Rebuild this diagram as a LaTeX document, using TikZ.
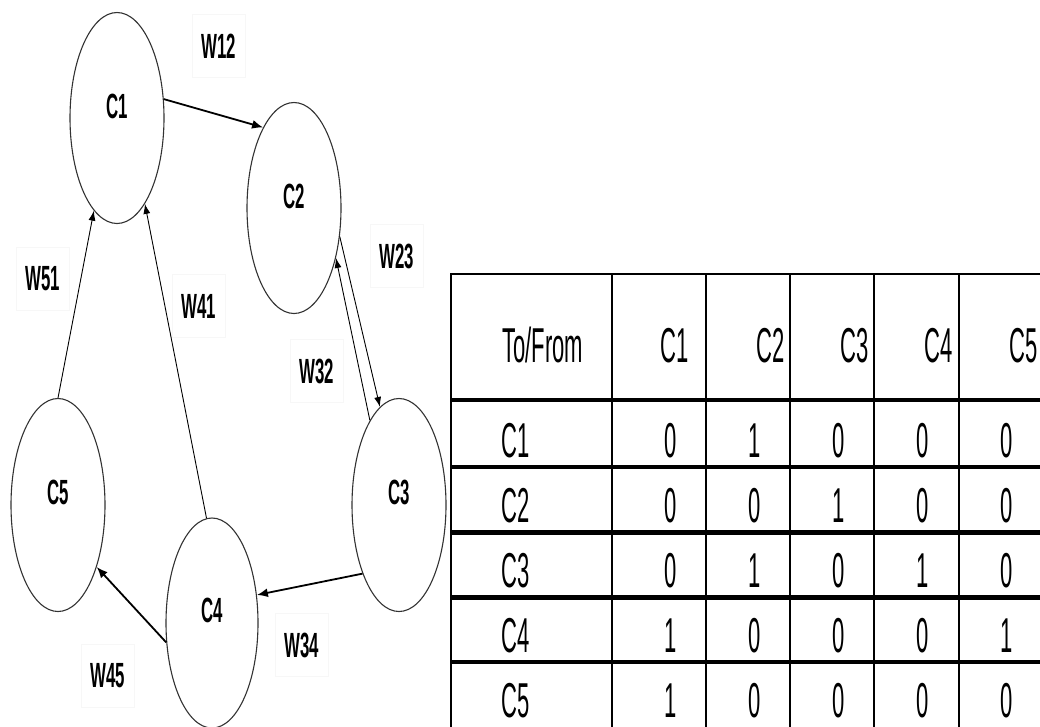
\documentclass[tikz,border=0pt]{standalone}
\usepackage{fontspec}
\setmainfont{Liberation Sans}
\newfontfamily\tabfont[FakeStretch=0.45]{Liberation Sans}
\newfontfamily\lblfont[FakeStretch=0.48]{Liberation Sans}
\usetikzlibrary{shapes.geometric,arrows.meta}

\tikzset{
  cell/.style={ellipse, draw=black!80, line width=1.1pt, inner sep=0pt,
               minimum width=94pt, minimum height=211pt},
  ctext/.style={font=\lblfont\bfseries\fontsize{35}{40}\selectfont, inner sep=0pt},
  wlabel/.style={font=\lblfont\bfseries\fontsize{35}{40}\selectfont, draw=black!3,
                 line width=0.6pt, minimum width=53pt, minimum height=63pt},
  link/.style={-{Latex[length=10pt,width=7pt]}, line width=0.9pt, black},
  heavy/.style={-{Latex[length=11pt,width=9pt]}, line width=1.8pt, black},
  tabtext/.style={font=\tabfont\fontsize{49}{53}\selectfont, inner sep=0pt},
  grid/.style={line width=2pt, black},
}

\begin{document}
\begin{tikzpicture}[x=1pt,y=-1pt]
\useasboundingbox[fill=white] (0,0) rectangle (1040,726);

% concept nodes
\node[cell] (c1) at (117,118) {};
\node[cell] (c2) at (294,208) {};
\node[cell, minimum height=213pt] (c3) at (399,505) {};
\node[cell, minimum height=213pt] (c5) at (58,505) {};
\node[cell, minimum width=92pt, minimum height=210pt] (c4) at (212,623) {};

\node[ctext] (t1) at (117,106) {C1};
\node[ctext] (t2) at (294,196) {C2};
\node[ctext] (t3) at (399,492) {C3};
\node[ctext] (t4) at (212,610) {C4};
\node[ctext] (t5) at (58,492) {C5};

% weight labels
\node[wlabel] (w12) at (219,46) {W12};
\node[wlabel] (w23) at (397,256) {W23};
\node[wlabel] (w51) at (43,279) {W51};
\node[wlabel] (w41) at (199,306) {W41};
\node[wlabel] (w32) at (317,371) {W32};
\node[wlabel] (w34) at (302,645) {W34};
\node[wlabel] (w45) at (108,676) {W45};

% causal links
\draw[heavy] (c1.22) -- (c2.111);
\draw[link] (c2.-32) -- (c3.101);
\draw[link] (c3.109) -- (c2.-50);
\draw[heavy] (c3.242) -- (c4.32);
\draw[heavy] (c4.203) -- (c5.302);
\draw[link] (c5.90) -- (c1.256);
\draw[link] (c4.93) -- (c1.288);

% adjacency table: rules
\foreach \x in {451,612,706,790,874,959}
  \draw[grid] (\x,273) -- (\x,730);
\draw[line width=2.2pt] (450,274) -- (1045,274);
\draw[line width=3.6pt] (450,400) -- (1045,400);
\draw[line width=4.2pt] (450,467) -- (1045,467);
\draw[line width=5pt]   (450,532) -- (1045,532);
\draw[line width=5pt]   (450,597) -- (1045,597);
\draw[line width=3.6pt] (450,662) -- (1045,662);

% adjacency table: header
\node[tabtext, anchor=base west] (hd) at (502,362) {To/From};
\foreach \c/\x in {1/689,2/785,3/869,4/953,5/1038}
  \node[tabtext, anchor=base east] (h\c) at (\x,362) {C\c};

% adjacency table: rows
\foreach \r/\y in {1/457,2/522,3/587,4/652,5/717}
  \node[tabtext, anchor=base west] (r\r) at (501,\y) {C\r};

\foreach \r/\y/\vals in {1/457/{0,1,0,0,0},2/522/{0,0,1,0,0},3/587/{0,1,0,1,0},
                         4/652/{1,0,0,0,1},5/717/{1,0,0,0,0}}{
  \foreach \v [count=\c] in \vals {
    \pgfmathsetmacro{\xx}{587+84*\c}
    \node[tabtext, anchor=base] (v\r\c) at (\xx,\y) {\v};
  }
}
\end{tikzpicture}
\end{document}
